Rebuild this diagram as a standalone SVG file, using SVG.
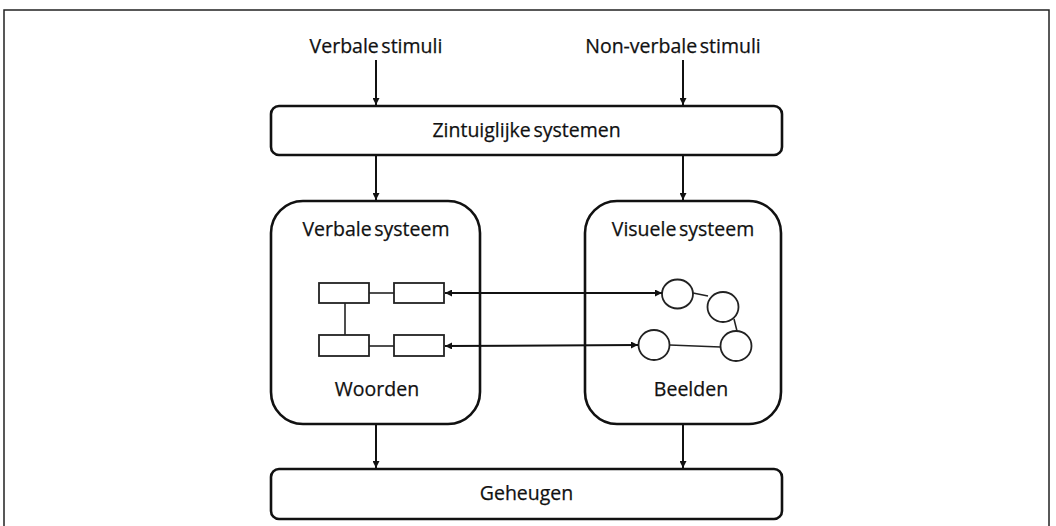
<svg xmlns="http://www.w3.org/2000/svg" width="1056" height="526" viewBox="0 0 1056 526">
<defs>
<marker id="ah" viewBox="0 0 10 10" refX="10" refY="5" markerWidth="9" markerHeight="7" markerUnits="userSpaceOnUse" orient="auto-start-reverse">
<path d="M0,0 L10,5 L0,10 z" fill="#111"/>
</marker>
<style>
.t{font-family:"Open Sans","Noto Sans","Liberation Sans",sans-serif;font-size:19.5px;fill:#111;stroke:#111;stroke-width:0.25;text-anchor:middle;word-spacing:-2.5px}
.box{fill:#fff;stroke:#111;stroke-width:2.6}
.sm{fill:#fff;stroke:#222;stroke-width:1.8}
.ln{fill:none;stroke:#111;stroke-width:2}
.thin{fill:none;stroke:#222;stroke-width:1.6}
</style>
</defs>
<rect x="0" y="0" width="1056" height="526" fill="#fff"/>
<rect id="frame" x="4" y="10" width="1045" height="540" fill="none" stroke="#222" stroke-width="1.5"/>
<g id="label-verbale-stimuli"><text class="t" x="376" y="53">Verbale stimuli</text></g>
<g id="label-nonverbale-stimuli"><text class="t" x="673" y="53">Non-verbale stimuli</text></g>
<g id="zintuiglijke"><rect class="box" x="271" y="106" width="511" height="49" rx="8"/><text class="t" x="526.5" y="137">Zintuiglijke systemen</text></g>
<g id="verbale-systeem"><rect class="box" x="271" y="201" width="209" height="223" rx="32"/><text class="t" x="376" y="236">Verbale systeem</text><text class="t" x="377" y="396">Woorden</text>
<rect class="sm" x="319" y="283" width="50" height="20"/><rect class="sm" x="394" y="283" width="50" height="20"/><rect class="sm" x="319" y="335" width="50" height="21"/><rect class="sm" x="394" y="335" width="50" height="21"/>
<line class="thin" x1="369" y1="293" x2="394" y2="293"/><line class="thin" x1="369" y1="346" x2="394" y2="346"/><line class="thin" x1="345" y1="303" x2="345" y2="335"/>
</g>
<g id="visuele-systeem"><rect class="box" x="585" y="201" width="196" height="223" rx="32"/><text class="t" x="683" y="236">Visuele systeem</text><text class="t" x="691" y="396">Beelden</text>
<ellipse class="sm" cx="677.5" cy="294" rx="15.5" ry="14.5"/><ellipse class="sm" cx="723" cy="307" rx="15.5" ry="15"/><ellipse class="sm" cx="654" cy="345" rx="15.5" ry="15"/><ellipse class="sm" cx="736" cy="346" rx="15.5" ry="15"/>
<line class="thin" x1="693" y1="293" x2="708" y2="296"/><line class="thin" x1="734" y1="319" x2="737" y2="331"/><line class="thin" x1="669.5" y1="345" x2="720.5" y2="347"/>
</g>
<g id="geheugen"><rect class="box" x="271" y="469" width="511" height="50" rx="8"/><text class="t" x="526.5" y="500">Geheugen</text></g>
<g id="connectors">
<line class="ln" x1="376" y1="60" x2="376" y2="105" marker-end="url(#ah)"/>
<line class="ln" x1="683" y1="60" x2="683" y2="105" marker-end="url(#ah)"/>
<line class="ln" x1="376" y1="156" x2="376" y2="200" marker-end="url(#ah)"/>
<line class="ln" x1="683" y1="156" x2="683" y2="200" marker-end="url(#ah)"/>
<line class="ln" x1="376" y1="425" x2="376" y2="468" marker-end="url(#ah)"/>
<line class="ln" x1="683" y1="425" x2="683" y2="468" marker-end="url(#ah)"/>
<line class="ln" x1="445" y1="293" x2="662" y2="293" marker-start="url(#ah)" marker-end="url(#ah)"/>
<line class="ln" x1="445" y1="346" x2="638" y2="345" marker-start="url(#ah)" marker-end="url(#ah)"/>
</g>
</svg>
